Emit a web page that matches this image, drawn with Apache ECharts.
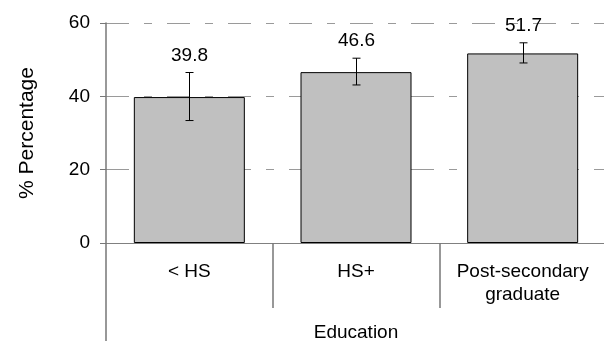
<!DOCTYPE html>
<html>
<head>
<meta charset="utf-8">
<script src="https://cdn.jsdelivr.net/npm/echarts@6/dist/echarts.min.js"></script>
<style>
html,body{margin:0;padding:0;background:#fff;overflow:hidden;}
#chart{width:604px;height:341px;}
</style>
</head>
<body>
<div id="chart"></div>
<script>
var categories = ['< HS', 'HS+', 'Post-secondary\ngraduate'];
var values = [39.8, 46.6, 51.7];
var errLow = [33.4, 43.1, 49.1];
var errHigh = [46.5, 50.4, 54.6];
var yTicks = [0, 20, 40, 60];

var FONT = '"Liberation Sans", Arial, sans-serif';
var chart = echarts.init(document.getElementById('chart'), null, {renderer: 'canvas', width: 604, height: 341});

var errData = categories.map(function (c, i) { return [i, errLow[i], errHigh[i], values[i]]; });

chart.setOption({
  animation: false,
  backgroundColor: '#ffffff',
  grid: {left: 106, width: 500, top: 23, height: 220, containLabel: false, outerBoundsMode: 'none'},
  xAxis: [{
    type: 'category',
    data: categories,
    boundaryGap: true,
    axisLine: {show: true, onZero: false, lineStyle: {color: '#808080', width: 1}},
    axisTick: {show: true, length: 65, lineStyle: {color: '#777777', width: 1.5}},
    axisLabel: {fontFamily: FONT, fontSize: 19, color: '#000', margin: 17, lineHeight: 23, interval: 0},
    name: 'Education',
    nameLocation: 'middle',
    nameGap: 90,
    nameTextStyle: {fontFamily: FONT, fontSize: 19, color: '#000', verticalAlign: 'middle'}
  }, {
    type: 'category',
    data: categories,
    position: 'bottom',
    boundaryGap: true,
    axisLine: {show: false},
    axisLabel: {show: false},
    axisTick: {show: true, length: 98, interval: function (idx) { return idx === 0; }, lineStyle: {color: '#777777', width: 1.5}}
  }],
  yAxis: {
    type: 'value',
    min: yTicks[0],
    max: yTicks[yTicks.length - 1],
    interval: 20,
    axisLine: {show: true, lineStyle: {color: '#777777', width: 1.5}},
    axisTick: {show: true, length: 6, lineStyle: {color: '#777777', width: 1}},
    axisLabel: {fontFamily: FONT, fontSize: 19, color: '#000', margin: 16},
    splitLine: {show: true, lineStyle: {color: '#9a9a9a', width: 1, type: [23, 15, 8, 15]}},
    name: '% Percentage',
    nameLocation: 'middle',
    nameGap: 79,
    nameRotate: 90,
    nameTextStyle: {fontFamily: FONT, fontSize: 21, color: '#000', verticalAlign: 'middle'}
  },
  series: [{
    type: 'bar',
    data: values,
    barWidth: '66.6%',
    itemStyle: {color: '#c0c0c0', borderColor: '#000', borderWidth: 1},
    z: 2
  }, {
    type: 'custom',
    data: errData,
    z: 5,
    renderItem: function (params, api) {
      var i = api.value(0);
      var lo = api.coord([i, api.value(1)]);
      var hi = api.coord([i, api.value(2)]);
      var x = Math.round(lo[0]) + 0.5;
      var cap = 4;
      var st = {stroke: '#000', lineWidth: 1};
      return {
        type: 'group',
        children: [
          {type: 'line', shape: {x1: x, y1: lo[1], x2: x, y2: hi[1]}, style: st},
          {type: 'line', shape: {x1: x - cap, y1: lo[1], x2: x + cap, y2: lo[1]}, style: st},
          {type: 'line', shape: {x1: x - cap, y1: hi[1], x2: x + cap, y2: hi[1]}, style: st},
          {type: 'text', x: x, y: hi[1] - 17, style: {
            text: values[params.dataIndex].toFixed(1), fontFamily: FONT, fontSize: 19, fill: '#000',
            align: 'center', verticalAlign: 'middle'}}
        ]
      };
    }
  }]
});
</script>
</body>
</html>
